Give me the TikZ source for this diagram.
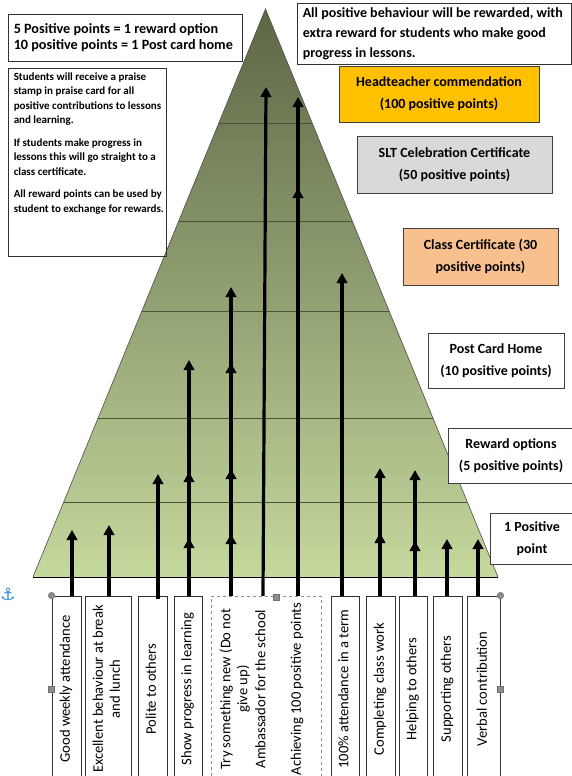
\documentclass[tikz,border=0pt]{standalone}
\usepackage{fontspec}
\setmainfont{Carlito}
\newfontfamily\symfont{DejaVu Sans}
\usetikzlibrary{arrows.meta,calc}
\definecolor{hdyellow}{HTML}{FFC000}
\definecolor{sltgrey}{HTML}{D9D9D9}
\definecolor{classpeach}{HTML}{F8C08F}
\definecolor{pyrtop}{HTML}{5C6746}
\definecolor{pyrbot}{HTML}{C5D89D}
\definecolor{levelline}{HTML}{4A5438}
\definecolor{anchorblue}{HTML}{2E8BD6}
\newcommand{\vlab}[1]{\rotatebox{90}{\begin{tabular}{@{}c@{}}#1\end{tabular}}}
\begin{document}
\begin{tikzpicture}[x=1pt,y=-1pt,
  infobox/.style={draw=black!75, line width=0.9pt, inner sep=0pt, align=center,
    font=\fontsize{14}{22}\selectfont\bfseries},
  lbl/.style={draw=black!80, line width=0.9pt, minimum height=186pt, inner sep=0pt,
    font=\fontsize{14.6}{17}\selectfont},
  ghost/.style={minimum height=186pt, inner sep=0pt, font=\fontsize{14.6}{17}\selectfont},
  arr/.style={line width=3.2pt, -{Triangle[width=10.5pt,length=10pt]}},
  level/.style={draw=levelline, line width=0.9pt},
  handle/.style={fill=black!45, draw=black!55, line width=0.4pt}]
\useasboundingbox (0,0) rectangle (572,776);
\fill[white] (0,0) rectangle (572,776);

% pyramid
\coordinate (ap) at (265.5,9);
\coordinate (bl) at (33,577);
\coordinate (br) at (498,577);
\shade[top color=pyrtop, bottom color=pyrbot] (ap) -- (bl) -- (br) -- cycle;
\draw[black!70, line width=0.6pt] (bl) -- (ap) -- (br);
\draw[black, line width=1pt] (bl) -- (br);
\foreach \f in {0.2007,0.3732,0.5317,0.7201,0.8680}
  \draw[level] ($(ap)!\f!(bl)$) -- ($(ap)!\f!(br)$);

% top-left boxes
\node[draw=black!80, line width=0.9pt, minimum width=234pt, minimum height=47pt, inner sep=0pt] (ratio) at (125,37.5) {};
\node[anchor=west, align=left, inner sep=0pt, font=\fontsize{14.2}{16.5}\selectfont\bfseries] at ($(ratio.west)+(6,0)$)
  {5 Positive points = 1 reward option\\10 positive points = 1 Post card home};
\node[draw=black!80, line width=0.9pt, minimum width=158pt, minimum height=188pt, inner sep=0pt] (info) at (87,162) {};
\node[anchor=north west, align=left, inner sep=0pt, font=\fontsize{11}{14.5}\selectfont\bfseries] at ($(info.north west)+(6,5)$)
  {Students will receive a praise\\stamp in praise card for all\\positive contributions to lessons\\and learning.\\[8pt]
   If students make progress in\\lessons this will go straight to a\\class certificate.\\[8pt]
   All reward points can be used by\\student to exchange for rewards.};

% top-right box
\node[draw=black!80, line width=0.9pt, minimum width=274pt, minimum height=61pt, inner sep=0pt] (allpos) at (434,33.5) {};
\node[anchor=west, align=left, inner sep=0pt, font=\fontsize{14}{20}\selectfont\bfseries] at ($(allpos.west)+(6,0)$)
  {All positive behaviour will be rewarded, with\\extra reward for students who make good\\progress in lessons.};

% level boxes
\node[infobox, fill=hdyellow, minimum width=200pt, minimum height=56pt] (head) at (439,94)
  {Headteacher commendation\\(100 positive points)};
\node[infobox, fill=sltgrey, minimum width=195pt, minimum height=57pt] (slt) at (454.5,164.5)
  {SLT Celebration Certificate\\(50 positive points)};
\node[infobox, fill=classpeach, minimum width=155pt, minimum height=57pt] (cls) at (480.5,256.5)
  {Class Certificate (30\\positive points)};
\node[infobox, fill=white, minimum width=136pt, minimum height=55pt] (post) at (496,360.5)
  {Post Card Home\\(10 positive points)};
\node[infobox, fill=white, minimum width=126pt, minimum height=55pt] (rew) at (511,455.5)
  {Reward options\\(5 positive points)};
\node[infobox, fill=white, minimum width=84pt, minimum height=51pt] (one) at (532,538.5)
  {1 Positive\\point};

% bottom labels
\node[lbl, minimum width=29pt] (b1) at (66.5,689) {\vlab{Good weekly attendance}};
\node[lbl, minimum width=46pt] (b2) at (108,689) {\vlab{Excellent behaviour at break\\and lunch}};
\node[lbl, minimum width=29pt] (b3) at (152.5,689) {\vlab{Polite to others}};
\node[lbl, minimum width=28pt] (b4) at (188,689) {\vlab{Show progress in learning}};
\draw[black!45, line width=0.6pt, dashed] (211,782) -- (211,596) -- (321,596) -- (321,782);
\node[ghost, minimum width=36pt] (b5) at (235.5,689) {\vlab{Try something new (Do not\\give up)}};
\node[ghost, minimum width=20pt] (b6) at (262,689) {\vlab{Ambassador for the school}};
\node[ghost, minimum width=20pt] (b7) at (297.5,689) {\vlab{Achieving 100 positive points}};
\node[lbl, minimum width=28pt] (b8) at (345,689) {\vlab{100\% attendance in a term}};
\node[lbl, minimum width=29pt] (b9) at (380.5,689) {\vlab{Completing class work}};
\node[lbl, minimum width=28pt] (b10) at (413,689) {\vlab{Helping to others}};
\node[lbl, minimum width=29pt] (b11) at (447.5,689) {\vlab{Supporting others}};
\node[lbl, minimum width=33pt] (b12) at (483.5,689) {\vlab{Verbal contribution}};

% arrow tips
\coordinate (t1) at (72,530);
\coordinate (t2) at (109,525);
\coordinate (t3) at (158,474);
\coordinate (t4a) at (189,538);
\coordinate (t4b) at (189,472);
\coordinate (t4c) at (189,360);
\coordinate (t5a) at (231,534);
\coordinate (t5b) at (231,469);
\coordinate (t5c) at (231,363);
\coordinate (t5d) at (231,287);
\coordinate (t6) at (266,87);
\coordinate (t7a) at (298,188);
\coordinate (t7b) at (298,97);
\coordinate (t8) at (342,273);
\coordinate (t9a) at (380,533);
\coordinate (t9b) at (380,468);
\coordinate (t10a) at (415,541);
\coordinate (t10b) at (415,470);
\coordinate (t11) at (447,539);
\coordinate (t12) at (478,539);

\draw[arr] (b1.north -| t1) -- (t1);
\draw[arr] (b2.north -| t2) -- (t2);
\draw[arr] ([yshift=-3pt]b3.north -| t3) -- (t3);
\draw[arr] (b4.north -| t4c) -- (t4c);
\draw[arr] (b4.north -| t4b) -- (t4b);
\draw[arr] (b4.north -| t4a) -- (t4a);
\draw[arr] (b5.north -| t5d) -- (t5d);
\draw[arr] (b5.north -| t5c) -- (t5c);
\draw[arr] (b5.north -| t5b) -- (t5b);
\draw[arr] (b5.north -| t5a) -- (t5a);
\draw[arr] ([xshift=1pt]b6.north) -- (t6);
\draw[arr] (b7.north -| t7b) -- (t7b);
\draw[arr] (b7.north -| t7a) -- (t7a);
\draw[arr] (b8.north -| t8) -- (t8);
\draw[arr] (b9.north -| t9b) -- (t9b);
\draw[arr] (b9.north -| t9a) -- (t9a);
\draw[arr] (b10.north -| t10b) -- (t10b);
\draw[arr] (b10.north -| t10a) -- (t10a);
\draw[arr] (b11.north -| t11) -- (t11);
\draw[arr] (b12.north -| t12) -- (t12);

% selection handles and anchor
\fill[handle] (b1.north west) circle (3.3pt);
\fill[handle] ($(b1.west)+(-3,-3)$) rectangle ++(6,6);
\fill[handle] (273,594) rectangle ++(6,6);
\fill[handle] (b12.north east) circle (3.3pt);
\fill[handle] ($(b12.east)+(-3,-3)$) rectangle ++(6,6);
\node[text=anchorblue, font=\symfont\fontsize{17}{17}\selectfont, inner sep=0pt] (anc) at (8,594) {⚓};
\end{tikzpicture}
\end{document}
